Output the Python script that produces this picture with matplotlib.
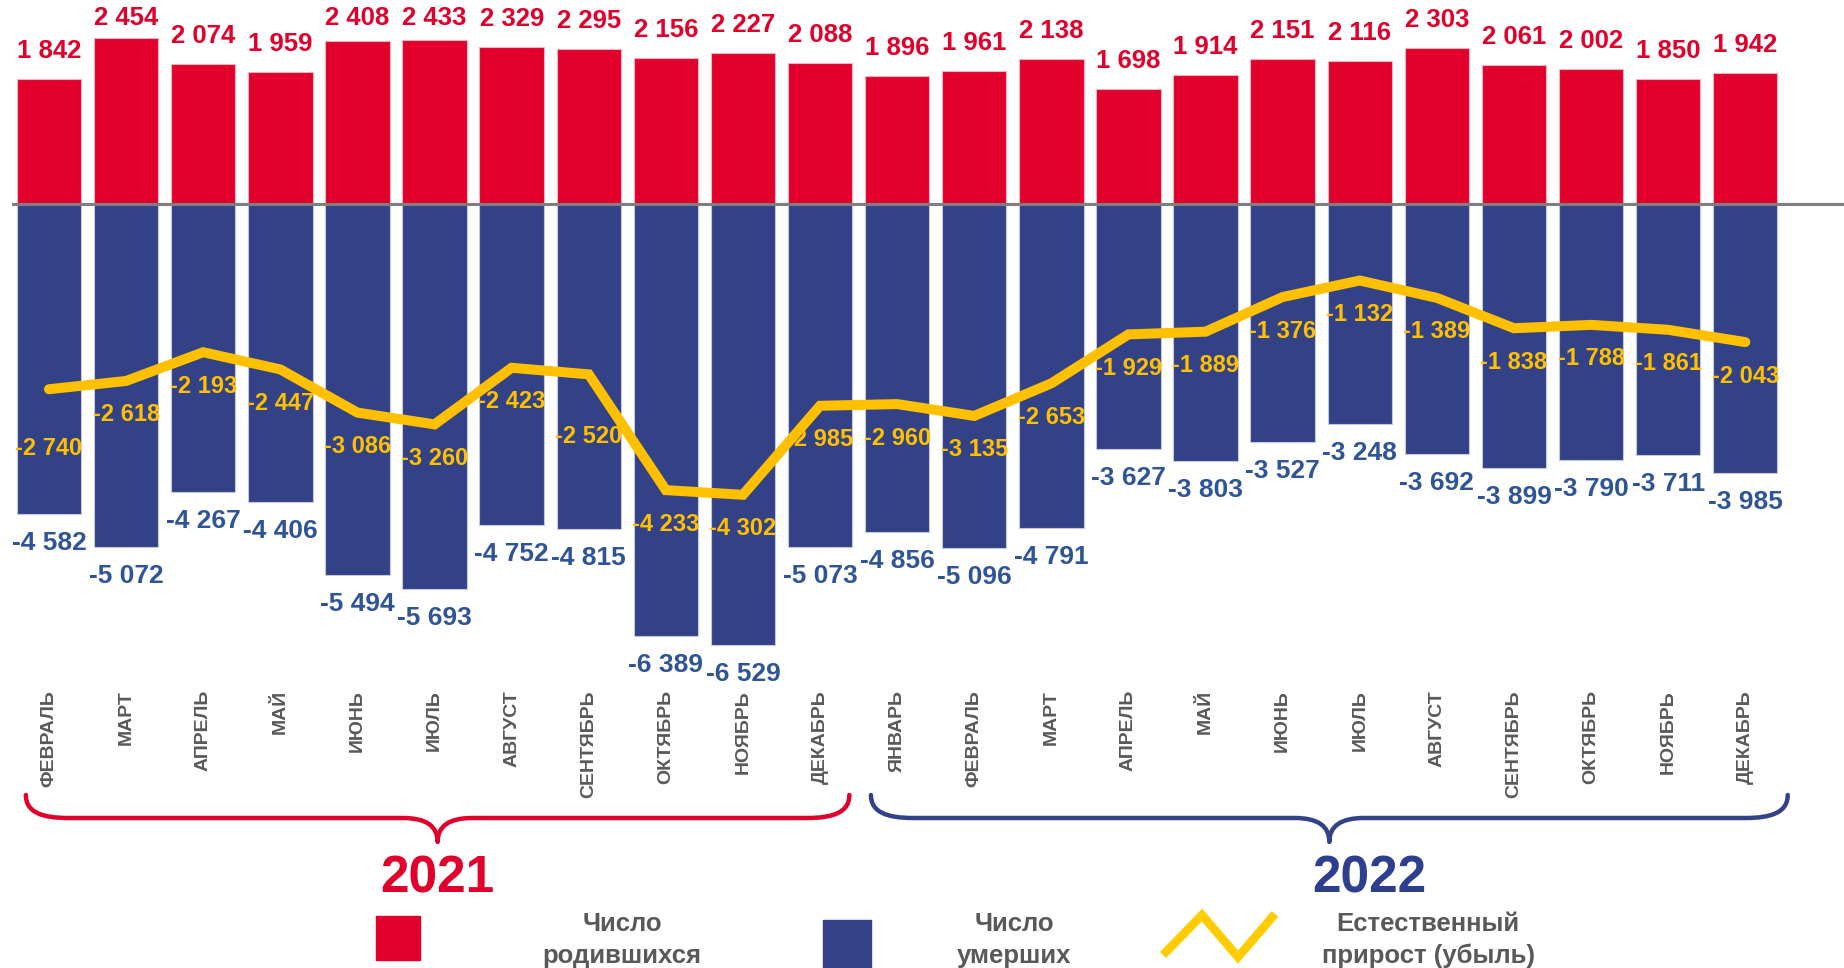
import matplotlib
matplotlib.use("Agg")
import matplotlib.pyplot as plt
import numpy as np
from matplotlib.transforms import Affine2D, blended_transform_factory
from matplotlib.path import Path
from matplotlib.patches import PathPatch, Rectangle
from matplotlib.lines import Line2D

plt.rcParams['font.family'] = ['Liberation Sans', 'DejaVu Sans']

# ---------------- data ----------------
months = ["ФЕВРАЛЬ", "МАРТ", "АПРЕЛЬ", "МАЙ", "ИЮНЬ", "ИЮЛЬ", "АВГУСТ", "СЕНТЯБРЬ",
          "ОКТЯБРЬ", "НОЯБРЬ", "ДЕКАБРЬ",
          "ЯНВАРЬ", "ФЕВРАЛЬ", "МАРТ", "АПРЕЛЬ", "МАЙ", "ИЮНЬ", "ИЮЛЬ", "АВГУСТ",
          "СЕНТЯБРЬ", "ОКТЯБРЬ", "НОЯБРЬ", "ДЕКАБРЬ"]
births = [1842, 2454, 2074, 1959, 2408, 2433, 2329, 2295, 2156, 2227, 2088,
          1896, 1961, 2138, 1698, 1914, 2151, 2116, 2303, 2061, 2002, 1850, 1942]
deaths = [-4582, -5072, -4267, -4406, -5494, -5693, -4752, -4815, -6389, -6529, -5073,
          -4856, -5096, -4791, -3627, -3803, -3527, -3248, -3692, -3899, -3790, -3711, -3985]
natural = [-2740, -2618, -2193, -2447, -3086, -3260, -2423, -2520, -4233, -4302, -2985,
           -2960, -3135, -2653, -1929, -1889, -1376, -1132, -1389, -1838, -1788, -1861, -2043]
years = ["2021", "2022"]
legend_labels = ["Число\nродившихся", "Число\nумерших", "Естественный\nприрост (убыль)"]

# ---------------- style ----------------
RED = '#E0002B'
BLUE = '#334286'
BLUE_TXT = '#2F5597'
YEL = '#FFC000'
GRAY = '#595959'

W, H = 1844, 968
fig = plt.figure(figsize=(W / 100, H / 100), dpi=100)
ax = fig.add_axes([12 / W, 1 - 660 / H, 1 - 12 / W, 660 / H])
ax.set_xlim(-0.48, 23.28)
ax.set_ylim(-6746, 3018)
ax.axis('off')

x = np.arange(len(months))
b = np.array(births)
d = np.array(deaths)
n = np.array(natural)

ax.bar(x, b, width=0.835, color=RED, edgecolor='#f3b3c0', linewidth=0.8, zorder=2)
ax.bar(x, d, width=0.835, color=BLUE, edgecolor='#c5c9e0', linewidth=0.8, zorder=2)
ax.axhline(0, color='#7f7f7f', lw=2.2, zorder=3)
ax.plot(x, n, color=YEL, lw=7.2, solid_capstyle='round', solid_joinstyle='miter', zorder=5)

def fmt(v):
    return f"{v:,}".replace(",", " ")

# births labels
for xi, v in zip(x, b):
    y = min(v + 237, 2574)
    ax.text(xi, y, fmt(v), ha='center', va='bottom', color=RED,
            fontsize=18.5, fontweight='bold', zorder=6)
# deaths labels
for xi, v in zip(x, d):
    ax.text(xi, v - 251, fmt(v), ha='center', va='top', color=BLUE_TXT,
            fontsize=19, fontweight='bold', zorder=6)
# natural labels
special = {0: 873, 7: 917}
for i, (xi, v) in enumerate(zip(x, n)):
    off = special.get(i, 503)
    ax.text(xi, v - off, fmt(v), ha='center', va='center', color=YEL,
            fontsize=17, fontweight='bold', zorder=4)

# pixel transform (origin top-left)
pix = Affine2D().scale(1 / W, -1 / H).translate(0, 1) + fig.transFigure
xpix = blended_transform_factory(ax.transData, pix)

# month labels
for xi, m in zip(x, months):
    ax.text(xi, 690, m, transform=xpix, rotation=90, ha='center', va='top',
            color=GRAY, fontsize=14, fontweight='bold', clip_on=False)

# braces
def brace(x0, x1, color):
    xm = (x0 + x1) / 2
    ytop, yh, ytip = 795, 818, 842
    verts = [(x0, ytop), (x0, 812), (x0 + 0.2, yh), (x0 + 0.55, yh),
             (xm - 0.45, yh),
             (xm - 0.15, yh), (xm, 826), (xm, ytip),
             (xm, 826), (xm + 0.15, yh), (xm + 0.45, yh),
             (x1 - 0.55, yh),
             (x1 - 0.2, yh), (x1, 812), (x1, ytop)]
    codes = [Path.MOVETO, Path.CURVE4, Path.CURVE4, Path.CURVE4,
             Path.LINETO,
             Path.CURVE4, Path.CURVE4, Path.CURVE4,
             Path.CURVE4, Path.CURVE4, Path.CURVE4,
             Path.LINETO,
             Path.CURVE4, Path.CURVE4, Path.CURVE4]
    p = PathPatch(Path(verts, codes), transform=xpix, fill=False, edgecolor=color,
                  lw=3.2, capstyle='round', joinstyle='round', clip_on=False)
    ax.add_patch(p)

brace(-0.30, 10.38, RED)
brace(10.66, 22.55, BLUE)

ax.text(5.04, 879, years[0], transform=xpix, ha='center', va='center', color=RED,
        fontsize=37, fontweight='bold', clip_on=False)
ax.text(17.13, 879, years[1], transform=xpix, ha='center', va='center', color='#2F3F8F',
        fontsize=37, fontweight='bold', clip_on=False)

# legend
fig.patches.append(Rectangle((376, 960), 44, -44, transform=pix, color=RED))
fig.patches.append(Rectangle((823, 968), 48, -48, transform=pix, color=BLUE))
fig.lines.append(Line2D([1163, 1202, 1238, 1275], [955, 915, 957, 914], transform=pix,
                        color='#FFCC00', lw=6.2, solid_joinstyle='miter',
                        solid_capstyle='butt'))
for lx, lab in zip([622, 1014, 1428], legend_labels):
    fig.text(lx, 940, lab, transform=pix, ha='center', va='center', color=GRAY,
             fontsize=18.5, fontweight='bold', linespacing=1.38)

fig.savefig("out.png", dpi=100, facecolor='white')
